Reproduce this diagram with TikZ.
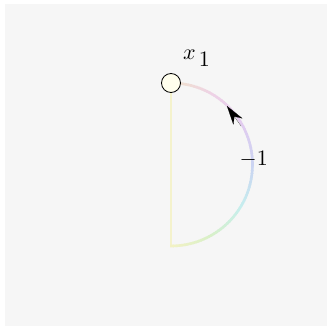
\documentclass[tikz,border=0pt]{standalone}
\usetikzlibrary{arrows.meta,calc}
\definecolor{bg}{HTML}{F6F6F6}
\definecolor{ca}{HTML}{F0E2CC}
\definecolor{cb}{HTML}{EED2E6}
\definecolor{cc}{HTML}{E2CCF0}
\definecolor{cd}{HTML}{CAD4F2}
\definecolor{ce}{HTML}{C6EEEE}
\definecolor{cf}{HTML}{D8F0C8}
\definecolor{cg}{HTML}{F4F2C4}
\definecolor{vline}{HTML}{F4F2CC}
\tikzset{
  ring/.style={line width=2.6pt},
  pin/.style={circle,draw=black,line width=0.8pt,fill=white!93!yellow,minimum size=19pt,inner sep=0pt},
  lbl/.style={inner sep=0pt}
}
\begin{document}
\begin{tikzpicture}[x=1pt,y=-1pt]
\useasboundingbox (0,0) rectangle (327,326);
\fill[bg] (5,4) rectangle (327,326);
\coordinate (c) at (171,164.5);
\coordinate (bot) at (171,246);
% vertical line
\draw[ring,vline] (171,83) -- (bot);
% gradient arc: t=0 at top, clockwise (on screen) to the bottom
\foreach \a/\cA/\cB in {0/ca/cb,30/cb/cc,60/cc/cd,90/cd/ce,120/ce/cf,150/cf/cg}{
  \foreach \k in {0,...,14}{
    \pgfmathsetmacro\t{\a+\k*2-90}
    \pgfmathsetmacro\u{\a+\k*2-90+2.6}
    \pgfmathsetmacro\p{100-\k*100/15}
    \draw[ring,line cap=butt,color={\cA!\p!\cB}]
      ($(c)+(\t:81.5)$) arc[start angle=\t,end angle=\u,radius=81.5];
  }
}
\node[pin] (x) at (171,83) {};
\node[lbl,anchor=base west] (xl) at (183,60) {\scalebox{2.2}{$x_{\,\textstyle 1}$}};
\node[lbl,anchor=base west] (m1) at (239.5,166) {\scalebox{2.2}{$-1$}};
% arrow
\coordinate (as) at (241,126);
\coordinate (ae) at (227,106);
\draw[-{Stealth[length=19pt,width=11pt]},line width=0.1pt,black] (as) -- (ae);
\end{tikzpicture}
\end{document}
